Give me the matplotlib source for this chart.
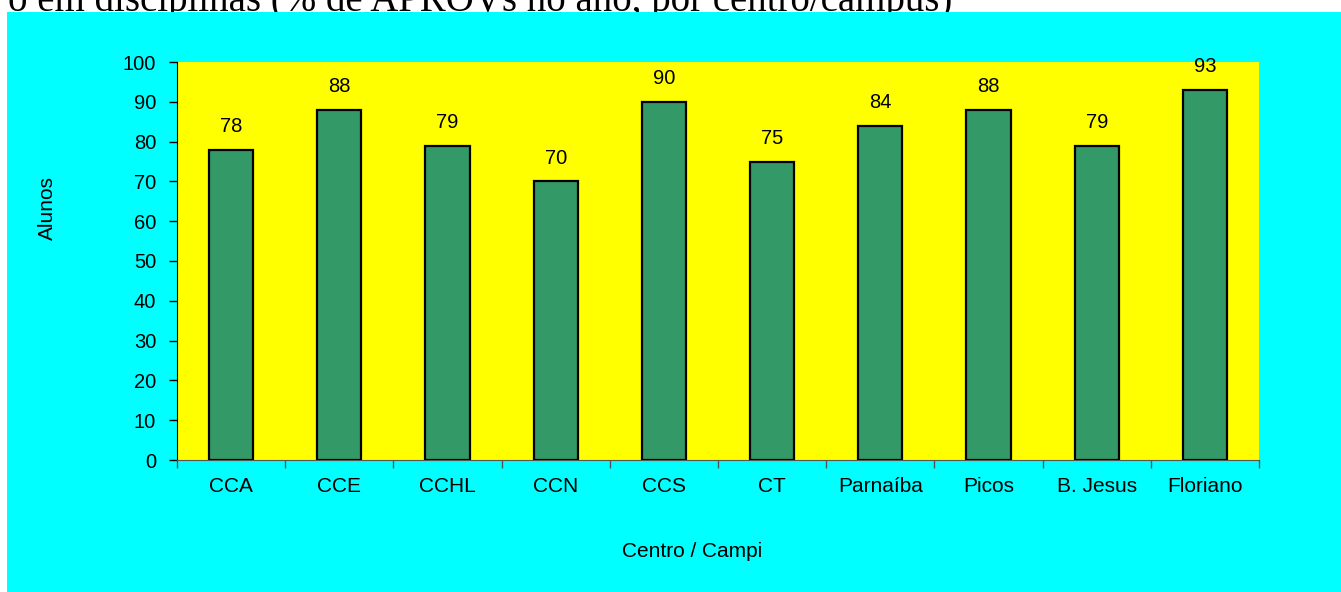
import matplotlib.pyplot as plt
from matplotlib.patches import Rectangle
from matplotlib.ticker import FixedLocator, NullFormatter
import numpy as np

centros = ['CCA', 'CCE', 'CCHL', 'CCN', 'CCS', 'CT', 'Parnaíba', 'Picos', 'B. Jesus', 'Floriano']
aprov = [78, 88, 79, 70, 90, 75, 84, 88, 79, 93]
yticks = [0, 10, 20, 30, 40, 50, 60, 70, 80, 90, 100]

plt.rcParams['font.family'] = ['Liberation Sans', 'DejaVu Sans']

fig = plt.figure(figsize=(13.41, 5.92), dpi=100, facecolor='white')

# cut-off title line from the page above the chart
fig.text(8 / 1341, 1 - 11 / 592, 'o em disciplinas (% de APROVs no ano, por centro/campus)',
         family='Liberation Serif', fontsize=28, ha='left', va='baseline', zorder=0)

# cyan chart area (covers the lower part of the title)
fig.patches.append(Rectangle((7 / 1341, 0), 1 - 7 / 1341, 1 - 12 / 592,
                             transform=fig.transFigure, facecolor='#00FFFF',
                             edgecolor='none', zorder=1))

ax = fig.add_axes([177 / 1341, 1 - 460 / 592, (1259 - 177) / 1341, (460 - 62) / 592])
ax.set_zorder(2)
ax.set_facecolor('#FFFF00')

x = np.arange(len(centros))
ax.bar(x, aprov, width=0.41, color='#339966', edgecolor='black', linewidth=1.6, zorder=3)
for xi, v in zip(x, aprov):
    ax.annotate(str(v), (xi, v), xytext=(0, 10), textcoords='offset points',
                ha='center', va='bottom', fontsize=14.5)

ax.set_xlim(-0.5, len(centros) - 0.5)
ax.set_ylim(0, 100)
ax.set_yticks(yticks)
ax.tick_params(axis='y', direction='out', length=6, width=1, labelsize=14.5, pad=9)

ax.set_xticks(x)
ax.set_xticklabels(centros)
ax.xaxis.set_minor_locator(FixedLocator(np.arange(-0.5, len(centros), 1.0)))
ax.xaxis.set_minor_formatter(NullFormatter())
ax.tick_params(axis='x', which='major', length=0, labelsize=15, pad=12)
ax.tick_params(axis='x', which='minor', direction='out', length=6, width=1, color='#555555')

for s in ['top', 'right']:
    ax.spines[s].set_visible(False)
ax.spines['left'].set_color('black')
ax.spines['bottom'].set_color('#555555')

ax.set_ylabel('Alunos', fontsize=15, va='center', ha='center')
ax.yaxis.set_label_coords(-0.12, 0.633)
ax.set_xlabel('Centro / Campi', fontsize=15, va='center', ha='center')
ax.xaxis.set_label_coords(0.476, -0.229)

fig.savefig('out.png', dpi=100, facecolor='white')
